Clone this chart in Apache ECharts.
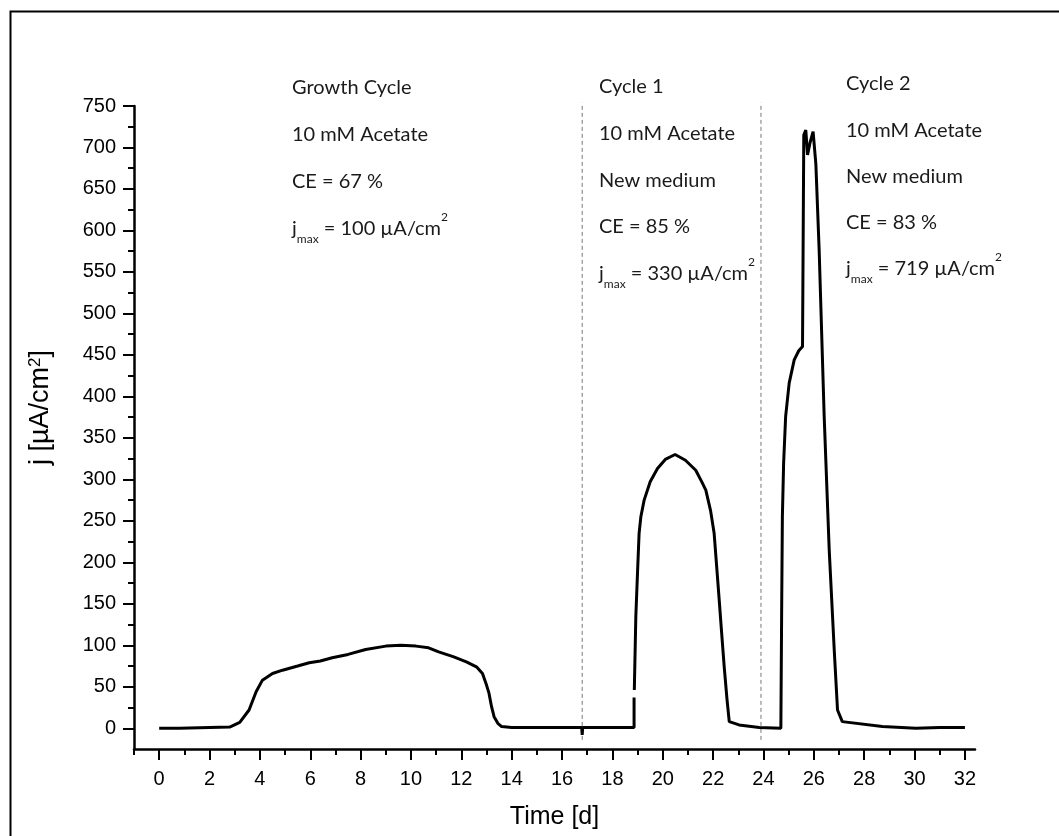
<!DOCTYPE html>
<html>
<head>
<meta charset="utf-8">
<script src="https://cdn.jsdelivr.net/npm/echarts@6/dist/echarts.min.js"></script>
<style>
html,body{margin:0;padding:0;background:#fff;}
#chart{width:1059px;height:836px;}
</style>
</head>
<body>
<div id="chart"></div>
<script>
// time [d]
const timeDays = [0, 0.8, 0.85, 2.8, 3.2, 3.57, 3.85, 4.1, 4.5, 4.9, 5.5, 5.96, 6.4, 6.87, 7.5, 8.2, 9.0, 9.6, 10.2, 10.7, 11.1, 11.7, 12.2, 12.6, 12.84, 13.0, 13.1, 13.2, 13.3, 13.45, 13.6, 14, 16.0, 16.78, 16.8, 16.82, 17.5, 18.86, 18.86, null, 18.87, 18.93, 19.0, 19.06, 19.13, 19.26, 19.5, 19.79, 20.1, 20.49, 20.9, 21.31, 21.55, 21.71, 21.9, 22.04, 22.14, 22.24, 22.34, 22.44, 22.55, 22.64, 23.03, 23.83, 24.69, 24.72, 24.75, 24.8, 24.88, 25.02, 25.22, 25.4, 25.55, 25.58, 25.6, 25.68, 25.75, 25.85, 25.97, 26.08, 26.21, 26.41, 26.61, 26.81, 26.94, 27.13, 28.72, 30.05, 31, 32];
// current density j [µA/cm²]
const currentDensity = [0, 0, 1.5, 1.5, 7, 22, 44, 58, 66, 70, 75, 79, 81, 85, 89, 95, 99, 100, 99, 97, 92, 86, 80, 74, 66, 52, 42, 26, 14, 6, 2, 1, 1, 1, -8, 1, 1, 1, 37, null, 46, 135, 190, 235, 255, 275, 297, 313, 324, 330, 323, 311, 297, 287, 262, 235, 195, 155, 114, 74, 35, 8, 4, 1, 0, 135, 255, 320, 376, 416, 444, 455, 460, 462, 715, 721, 691, 706, 719, 680, 577, 376, 215, 94, 22, 8, 2, 0, 1, 1];
// cycle boundaries [d]
const cycleBoundaries = [16.8, 23.9];
const boundarySpan = [-14, 754];
// axis ticks
const xMajorTicks = [0, 2, 4, 6, 8, 10, 12, 14, 16, 18, 20, 22, 24, 26, 28, 30, 32];
const xMinorTicks = [-1, 1, 3, 5, 7, 9, 11, 13, 15, 17, 19, 21, 23, 25, 27, 29, 31];
const yMajorTicks = [0, 50, 100, 150, 200, 250, 300, 350, 400, 450, 500, 550, 600, 650, 700, 750];
const yMinorTicks = [25, 75, 125, 175, 225, 275, 325, 375, 425, 475, 525, 575, 625, 675, 725];
// annotations
const annotationBlocks = [
  ['Growth Cycle', '10 mM Acetate', 'CE = 67 %', 'j{sub|max} = 100 µA/cm{sup|2}'],
  ['Cycle 1', '10 mM Acetate', 'New medium', 'CE = 85 %', 'j{sub|max} = 330 µA/cm{sup|2}'],
  ['Cycle 2', '10 mM Acetate', 'New medium', 'CE = 83 %', 'j{sub|max} = 719 µA/cm{sup|2}']
];

const curve = timeDays.map((t, i) => (t === null || currentDensity[i] === null) ? [null, null] : [t, currentDensity[i]]);

const chart = echarts.init(document.getElementById('chart'), null, {renderer: 'canvas'});

const annoFont = 'Lato, "Open Sans", sans-serif';
const annoPos = [
  {left: 292, center: 88, gap: 46.7},
  {left: 599, center: 86.7, gap: 46.7},
  {left: 846, center: 84, gap: 46.1}
];
const LH = 34;
const graphics = [{
  type: 'rect', left: 8, top: 9, silent: true,
  shape: {x: 0, y: 0, width: 1080, height: 860},
  style: {fill: 'none', stroke: '#000', lineWidth: 2}
}];
annotationBlocks.forEach((block, b) => {
  block.forEach((line, k) => {
    graphics.push({
      type: 'text',
      left: annoPos[b].left,
      top: annoPos[b].center + k * annoPos[b].gap - LH / 2,
      silent: true,
      style: {
        text: line,
        fill: '#1a1a1a',
        font: '20px ' + annoFont,
        lineHeight: LH,
        rich: {
          sub: {fontSize: 12, fontFamily: annoFont, verticalAlign: 'bottom', lineHeight: 12, fill: '#1a1a1a'},
          sup: {fontSize: 12, fontFamily: annoFont, verticalAlign: 'top', lineHeight: 12, fill: '#1a1a1a'}
        }
      }
    });
  });
});

const axisFont = '"Liberation Sans", Arial, sans-serif';

const boundarySeries = cycleBoundaries.map(x => ({
  type: 'line',
  data: boundarySpan.map(y => [x, y]),
  showSymbol: false,
  clip: false,
  silent: true,
  lineStyle: {color: '#777', width: 1, type: [4, 3]},
  z: 1
}));

chart.setOption({
  animation: false,
  backgroundColor: '#fff',
  grid: {left: 134, top: 106, width: 841, height: 643, containLabel: false},
  xAxis: [{
    type: 'value', position: 'bottom', min: -1, max: 32.4,
    name: 'Time [d]', nameLocation: 'middle', nameGap: 56,
    nameTextStyle: {fontFamily: axisFont, fontSize: 25, color: '#000'},
    axisLine: {onZero: false, lineStyle: {color: '#000', width: 2.5}},
    axisTick: {show: true, inside: false, length: 11, customValues: xMajorTicks, lineStyle: {color: '#000', width: 2}},
    axisLabel: {customValues: xMajorTicks, fontFamily: axisFont, fontSize: 20, color: '#000', margin: 20},
    splitLine: {show: false}
  }, {
    type: 'value', position: 'bottom', min: -1, max: 32.4,
    axisLine: {show: false, onZero: false},
    axisTick: {show: true, length: 6, customValues: xMinorTicks, lineStyle: {color: '#000', width: 2}},
    axisLabel: {show: false},
    splitLine: {show: false}
  }],
  yAxis: [{
    type: 'value', position: 'left', min: -25, max: 750,
    name: 'j [µA/cm{sup|2}]', nameLocation: 'middle', nameGap: 80, nameRotate: 90,
    nameTextStyle: {
      fontFamily: axisFont, fontSize: 27, color: '#000', padding: [0, 0, 0, 40],
      rich: {sup: {fontFamily: axisFont, fontSize: 17, verticalAlign: 'top', lineHeight: 14, color: '#000'}}
    },
    axisLine: {show: true, onZero: false, lineStyle: {color: '#000', width: 2.5}},
    axisTick: {show: true, length: 11, customValues: yMajorTicks, lineStyle: {color: '#000', width: 2}},
    axisLabel: {customValues: yMajorTicks, fontFamily: axisFont, fontSize: 20, color: '#000', margin: 18},
    splitLine: {show: false}
  }, {
    type: 'value', position: 'left', min: -25, max: 750,
    axisLine: {show: false, onZero: false},
    axisTick: {show: true, length: 6, customValues: yMinorTicks, lineStyle: {color: '#000', width: 2}},
    axisLabel: {show: false},
    splitLine: {show: false}
  }],
  series: boundarySeries.concat([{
    type: 'line',
    data: curve,
    showSymbol: false,
    connectNulls: false,
    lineStyle: {color: '#000', width: 3},
    z: 3
  }]),
  graphic: graphics
});
</script>
</body>
</html>
